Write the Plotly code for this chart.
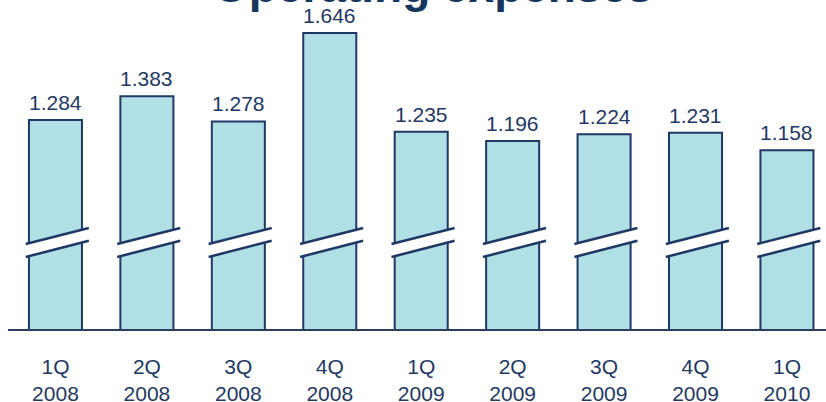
import plotly.graph_objects as go

# ---- data ----
quarters = ["1Q", "2Q", "3Q", "4Q", "1Q", "2Q", "3Q", "4Q", "1Q"]
years = ["2008", "2008", "2008", "2008", "2009", "2009", "2009", "2009", "2010"]
opex = [1.284, 1.383, 1.278, 1.646, 1.235, 1.196, 1.224, 1.231, 1.158]
value_labels = ["1.284", "1.383", "1.278", "1.646", "1.235", "1.196", "1.224", "1.231", "1.158"]
title_text = "Operating expenses"

# ---- style ----
NAVY = "#1f3864"
FILL = "#b0dfe5"
FONT = "Arial, Liberation Sans, sans-serif"

x_idx = list(range(len(opex)))
tick_text = [f"{q}<br>{y}" for q, y in zip(quarters, years)]

fig = go.Figure()
fig.add_trace(go.Bar(
    x=x_idx,
    y=opex,
    width=0.58,
    marker=dict(color=FILL, line=dict(color=NAVY, width=2)),
    hoverinfo="skip",
))

annotations = []
for xi, v, lab in zip(x_idx, opex, value_labels):
    annotations.append(dict(
        x=xi, y=v, xref="x", yref="y", text=lab, showarrow=False,
        yanchor="bottom", xanchor="center", yshift=4,
        font=dict(family=FONT, size=21, color=NAVY),
    ))
annotations.append(dict(
    x=0.5196, y=0.958, xref="paper", yref="paper",
    text=f"<b>{title_text}</b>", showarrow=False,
    xanchor="center", yanchor="bottom",
    font=dict(family=FONT, size=46, color="#17365d"),
))

# axis-break markers (white slanted gap with two navy lines) on every bar
shapes = []
y_up0, y_up1 = 0.767, 0.834
y_lo0, y_lo1 = 0.713, 0.781
for xi in x_idx:
    xa, xb = xi - 0.325, xi + 0.365
    shapes.append(dict(
        type="path", xref="x", yref="y", layer="above",
        path=f"M {xa},{y_up0} L {xb},{y_up1} L {xb},{y_lo1} L {xa},{y_lo0} Z",
        fillcolor="white", line=dict(width=0),
    ))
    shapes.append(dict(type="line", xref="x", yref="y", layer="above",
                       x0=xa, y0=y_up0, x1=xb, y1=y_up1,
                       line=dict(color=NAVY, width=2.5)))
    shapes.append(dict(type="line", xref="x", yref="y", layer="above",
                       x0=xa, y0=y_lo0, x1=xb, y1=y_lo1,
                       line=dict(color=NAVY, width=2.5)))

fig.update_layout(
    template="none",
    width=826, height=402,
    margin=dict(l=8, r=0, t=0, b=73, pad=0),
    paper_bgcolor="white", plot_bgcolor="white",
    showlegend=False,
    shapes=shapes,
    annotations=annotations,
    xaxis=dict(
        range=[-0.519, 8.427],
        tickmode="array", tickvals=x_idx, ticktext=tick_text,
        tickfont=dict(family=FONT, size=21, color=NAVY),
        showgrid=False, zeroline=False, automargin=False,
        showline=True, linecolor="#2c3e5c", linewidth=1.5,
        ticks="", ticklabelstandoff=18,
        fixedrange=True,
    ),
    yaxis=dict(
        range=[0.413, 1.7838],
        visible=False, showgrid=False, zeroline=False, automargin=False,
        fixedrange=True,
    ),
    bargap=0,
)

fig.write_html(
    "out.html",
    config={"displayModeBar": False, "staticPlot": True},
    post_script="document.body.style.margin='0';document.body.style.padding='0';"
                "document.body.style.overflow='hidden';",
)
